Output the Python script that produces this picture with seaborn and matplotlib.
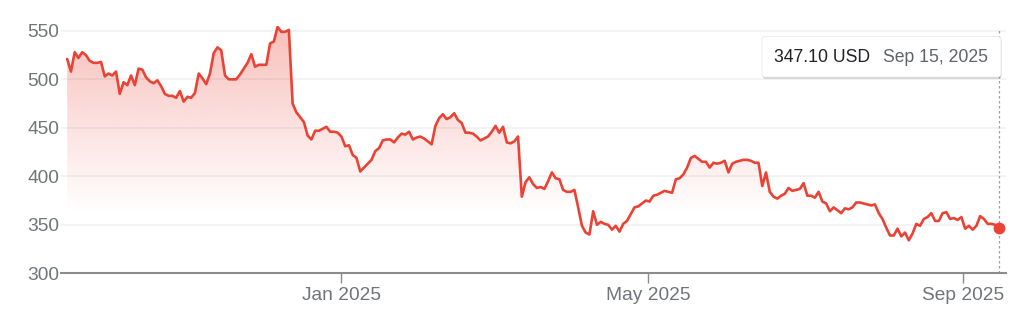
import numpy as np
import pandas as pd
import matplotlib
matplotlib.use("Agg")
import matplotlib.pyplot as plt
import matplotlib.dates as mdates
from matplotlib.patches import FancyBboxPatch
from matplotlib.transforms import Affine2D
import seaborn as sns

# ---------------- data ----------------
close_sep_to_jan = [
    521, 508, 528, 522, 528, 525, 519, 517, 517, 518,
    503, 506, 504, 508, 485, 497, 494, 504, 494, 511,
    510, 502, 498, 496, 499, 493, 485, 483, 483, 481,
    488, 477, 482, 481, 486, 506, 501, 495, 506, 527,
    533, 530, 504, 500, 500, 500, 505, 511, 517, 526,
    513, 515, 515, 515, 537, 539, 554, 549, 549, 551,
    475, 466, 461, 456, 442, 438, 447, 447, 449, 451,
    446, 446, 445, 441, 431,
]
close_jan_to_may = [
    432, 422, 419, 405, 409, 413, 417, 426, 429, 437,
    438, 438, 435, 440, 444, 443, 446, 438, 440, 441,
    439, 436, 433, 452, 460, 464, 459, 461, 465, 458,
    455, 445, 445, 444, 441, 437, 439, 441, 446, 452,
    445, 451, 435, 434, 436, 441, 379, 394, 399, 392,
    388, 389, 387, 395, 404, 398, 397, 386, 384, 384,
    386, 368, 349, 342, 340, 364, 350, 353, 351, 350,
    345, 349, 343, 351, 354, 361, 368, 369, 372, 375,
    374, 380, 381, 383, 385, 384, 383, 397, 398,
]
close_may_to_sep = [
    402, 409, 419, 421, 418, 415, 415, 409, 414, 413,
    414, 416, 404, 413, 415, 416, 417, 417, 416, 414,
    414, 390, 404, 384, 379, 377, 380, 382, 388, 385,
    386, 387, 393, 380, 380, 378, 384, 374, 372, 364,
    368, 365, 362, 367, 366, 368, 373, 373, 372, 371,
    370, 371, 362, 356, 347, 339, 339, 346, 338, 342,
    334, 341, 351, 349, 356, 358, 362, 354, 354, 362,
    363, 356, 357, 355, 358, 346, 349, 345, 349, 359,
    356, 351, 351, 350, 347.10,
]
start_date = "2024-09-16"
end_date = "2025-09-15"
y_ticks = [300, 350, 400, 450, 500, 550]
x_tick_dates = ["2025-01-01", "2025-05-01", "2025-09-01"]
x_tick_labels = ["Jan 2025", "May 2025", "Sep 2025"]
tooltip_price = "347.10 USD"
tooltip_date = "Sep 15, 2025"

prices = np.array(close_sep_to_jan + close_jan_to_may + close_may_to_sep, dtype=float)
dates = pd.date_range(start_date, end_date, periods=len(prices))
df = pd.DataFrame({"date": dates, "close": prices})

# ---------------- style ----------------
W, H = 1030, 322
RED = "#ea4335"
GREY_TXT = "#70757a"

sns.set_theme(style="white")
plt.rcParams["font.family"] = ["Liberation Sans", "DejaVu Sans"]

fig = plt.figure(figsize=(W / 100, H / 100), dpi=100)
ax_left, ax_right, ax_bottom, ax_top = 61, 1006, 273.3, 26
ax = fig.add_axes([ax_left / W, (H - ax_bottom) / H,
                   (ax_right - ax_left) / W, (ax_bottom - ax_top) / H])

ymin, ymax = 300, 555
xmin = mdates.date2num(pd.Timestamp("2024-09-13 14:00"))
xmax = mdates.date2num(pd.Timestamp("2025-09-17 18:00"))

# gradient fill under line
poly = ax.fill_between(df["date"], df["close"], ymin, facecolor="none",
                       edgecolor="none")
rows = 400
vals = np.linspace(ymax, ymin, rows)
alpha = np.clip((vals - 362) / (ymax - 362), 0, 1) * 0.34
grad = np.zeros((rows, 1, 4))
rgb = matplotlib.colors.to_rgb(RED)
grad[:, 0, 0], grad[:, 0, 1], grad[:, 0, 2] = rgb
grad[:, 0, 3] = alpha
img = ax.imshow(grad, extent=[xmin, xmax, ymin, ymax], aspect="auto",
                origin="upper", zorder=1, interpolation="bilinear")
img.set_clip_path(poly.get_paths()[0], transform=ax.transData)

# grid lines
for yv in y_ticks[1:]:
    ax.axhline(yv, color="black", alpha=0.055, lw=1.2, zorder=1.5)

# line
sns.lineplot(data=df, x="date", y="close", color=RED, linewidth=1.9, ax=ax,
             zorder=3)

# last point marker + dotted line
last_d = df["date"].iloc[-1]
ax.axvline(last_d, ymin=0, ymax=(553 - ymin) / (ymax - ymin), color="#9aa0a6",
           lw=0.9, linestyle=(0, (2, 2)), zorder=2)
ax.plot([last_d], [prices[-1]], "o", color=RED, markersize=8.5, zorder=4,
        markeredgewidth=0)

ax.set_xlim(xmin, xmax)
ax.set_ylim(ymin, ymax)

# axes / ticks
for s in ["top", "right", "left"]:
    ax.spines[s].set_visible(False)
ax.spines["bottom"].set_color("#8c8c8c")
ax.spines["bottom"].set_linewidth(1.5)
ax.set_xticks([mdates.date2num(pd.Timestamp(d)) for d in x_tick_dates])
ax.set_xticklabels(x_tick_labels)
ax.set_yticks(y_ticks)
ax.set_yticklabels([str(v) for v in y_ticks])
ax.tick_params(axis="x", length=7.5, width=1, color="#8c8c8c", pad=2.5,
               labelsize=13.8, labelcolor=GREY_TXT, bottom=True)
ax.tick_params(axis="y", length=0, pad=1.5, labelsize=13.8,
               labelcolor=GREY_TXT, left=True)
ax.set_xlabel("")
ax.set_ylabel("")
ax.grid(False)

# tooltip box (pixel coordinates, origin bottom-left)
pix = Affine2D().scale(1 / W, 1 / H) + fig.transFigure
bx0, bx1, by_top, by_bot = 762, 1001, 36.5, 77
shadow = FancyBboxPatch((bx0 + 0.5, H - by_bot - 1.8), bx1 - bx0, by_bot - by_top,
                        boxstyle="round,pad=0,rounding_size=3",
                        transform=pix, facecolor="#000000", alpha=0.16,
                        edgecolor="none", zorder=9)
box = FancyBboxPatch((bx0, H - by_bot), bx1 - bx0, by_bot - by_top,
                     boxstyle="round,pad=0,rounding_size=3",
                     transform=pix, facecolor="white", edgecolor="#e6e6e6",
                     linewidth=0.5, zorder=10)
fig.patches.extend([shadow, box])
fig.text(774 / W, (H - 57) / H, tooltip_price, color="#202124", fontsize=12.7,
         ha="left", va="center", zorder=11)
fig.text(883 / W, (H - 57) / H, tooltip_date, color="#5f6368", fontsize=12.7,
         ha="left", va="center", zorder=11)

fig.savefig("out.png", dpi=100, facecolor="white")
